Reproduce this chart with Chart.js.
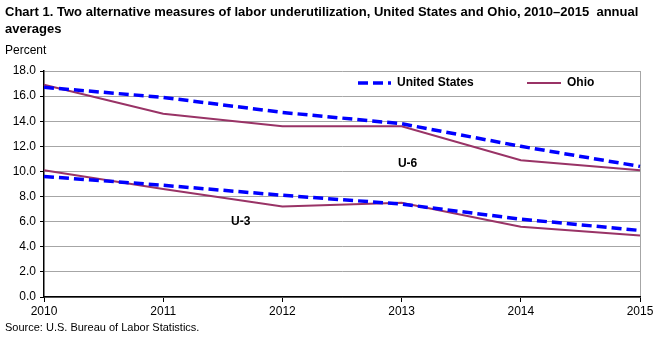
<!DOCTYPE html>
<html><head><meta charset="utf-8">
<script src="https://cdn.jsdelivr.net/npm/chart.js@4"></script>
<style>
html,body{margin:0;padding:0;background:#fff;}
#wrap{position:relative;width:664px;height:341px;font-family:"Liberation Sans",Arial,sans-serif;color:#000;}
#title{position:absolute;left:5px;top:3px;width:659px;font-weight:bold;font-size:13px;line-height:17px;white-space:pre-wrap;}
#unit{position:absolute;left:5px;top:43px;font-size:12px;}
#src{position:absolute;left:5px;top:321px;font-size:11px;}
canvas{position:absolute;left:0;top:0;}
</style></head>
<body><div id="wrap">
<canvas id="c" width="664" height="341"></canvas>
<div id="title">Chart 1. Two alternative measures of labor underutilization, United States and Ohio, 2010–2015  annual averages</div>
<div id="unit">Percent</div>
<div id="src">Source: U.S. Bureau of Labor Statistics.</div>
</div>
<script>
const years = ['2010','2011','2012','2013','2014','2015'];
const usU6 = [16.7, 15.9, 14.7, 13.8, 12.0, 10.4];
const ohioU6 = [16.9, 14.6, 13.6, 13.6, 10.9, 10.1];
const usU3 = [9.6, 8.9, 8.1, 7.4, 6.2, 5.3];
const ohioU3 = [10.1, 8.6, 7.2, 7.5, 5.6, 4.9];
const seriesNames = ['United States', 'Ohio'];
const measureLabels = [{text:'U-6', x:3.05, y:10.6}, {text:'U-3', x:1.65, y:6.0}];

const US_STYLE = {borderColor:'#0000ff', borderWidth:3.5, borderDash:[10,5]};
const OH_STYLE = {borderColor:'#993366', borderWidth:2, borderDash:[]};

const overlay = {
  id:'overlay',
  afterDatasetsDraw(chart){
    const {ctx, scales:{x,y}} = chart;
    ctx.save();
    ctx.font = 'bold 12px "Liberation Sans", Arial, sans-serif';
    ctx.fillStyle = '#000';
    ctx.textBaseline = 'middle';
    ctx.textAlign = 'center';
    measureLabels.forEach(l=>{
      const px = x.left + (x.right - x.left) * l.x / (years.length-1);
      ctx.fillText(l.text, px, y.getPixelForValue(l.y));
    });
    // legend
    const ly = 83;
    const items = [{name:seriesNames[0], st:US_STYLE, x0:358, len:33},{name:seriesNames[1], st:OH_STYLE, x0:527, len:34}];
    ctx.textAlign = 'left';
    items.forEach(it=>{
      ctx.beginPath();
      ctx.strokeStyle = it.st.borderColor;
      ctx.lineWidth = it.st.borderWidth;
      ctx.setLineDash(it.st.borderDash);
      ctx.moveTo(it.x0, ly); ctx.lineTo(it.x0+it.len, ly);
      ctx.stroke();
      ctx.setLineDash([]);
      ctx.fillText(it.name, it.x0+it.len+6, ly);
    });
    ctx.restore();
  }
};

new Chart(document.getElementById('c'), {
  type:'line',
  data:{
    labels: years,
    datasets:[
      Object.assign({label:'United States U-6', data:usU6}, US_STYLE),
      Object.assign({label:'Ohio U-6', data:ohioU6}, OH_STYLE),
      Object.assign({label:'United States U-3', data:usU3}, US_STYLE),
      Object.assign({label:'Ohio U-3', data:ohioU3}, OH_STYLE)
    ]
  },
  options:{
    responsive:false,
    animation:false,
    devicePixelRatio:1,
    layout:{padding:{top:71, right:24, left:0, bottom:0}},
    elements:{point:{radius:0}, line:{tension:0, borderCapStyle:'butt'}},
    plugins:{legend:{display:false}, title:{display:false}, tooltip:{enabled:false}},
    scales:{
      x:{
        offset:false,
        grid:{
          color:(c)=> c.index===years.length-1 ? '#a6a6a6' : 'rgba(0,0,0,0)',
          tickColor:'#000', tickLength:5, lineWidth:1
        },
        border:{color:'#000', width:1.5},
        ticks:{color:'#000', font:{family:'"Liberation Sans", Arial, sans-serif', size:12}, padding:2, maxRotation:0, autoSkip:false},
        afterFit(s){ s.height = 44; }
      },
      y:{
        min:0, max:18,
        grid:{color:'#a6a6a6', tickColor:'#000', tickLength:4, lineWidth:1},
        border:{color:'#000', width:1.5},
        ticks:{stepSize:2, color:'#000', font:{family:'"Liberation Sans", Arial, sans-serif', size:12}, padding:4,
          callback:(v)=> Number(v).toFixed(1)},
        afterFit(s){ s.width = 44; }
      }
    }
  },
  plugins:[overlay]
});
</script>
</body></html>
